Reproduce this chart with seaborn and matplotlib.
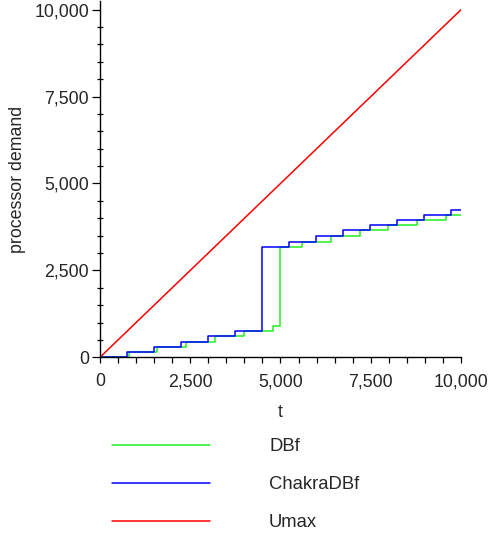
import numpy as np
import pandas as pd
import matplotlib
matplotlib.use('Agg')
import matplotlib.pyplot as plt
import seaborn as sns
from matplotlib.ticker import MultipleLocator, FuncFormatter

# ---- data ----
series_names = ['DBf', 'ChakraDBf', 'Umax']
t_dbf = [0, 790, 1590, 2390, 3190, 3990, 4790, 5000, 5590, 6390, 7190, 7990, 8790, 9590, 10000]
dbf = [0, 150, 300, 450, 600, 750, 900, 3175, 3325, 3485, 3655, 3810, 3945, 4090, 4090]
t_chakra = [0, 735, 1485, 2235, 2985, 3735, 4485, 5235, 5985, 6735, 7485, 8235, 8985, 9735, 10000]
chakra = [0, 150, 300, 450, 600, 750, 3175, 3325, 3485, 3655, 3810, 3945, 4095, 4240, 4240]
t_umax = [0, 10000]
umax = [0, 10000]
colors = ['#22ee22', '#0000ff', '#ff0000']
x_ticks = [0, 2500, 5000, 7500, 10000]
y_ticks = [0, 2500, 5000, 7500, 10000]

sns.set_style('white')
plt.rcParams['font.family'] = ['Liberation Sans', 'DejaVu Sans']
plt.rcParams['font.size'] = 12.8

df = pd.concat([
    pd.DataFrame({'t': t_dbf, 'demand': dbf, 'series': series_names[0]}),
    pd.DataFrame({'t': t_chakra, 'demand': chakra, 'series': series_names[1]}),
    pd.DataFrame({'t': t_umax, 'demand': umax, 'series': series_names[2]}),
], ignore_index=True)

fig = plt.figure(figsize=(4.89, 5.35), dpi=100)
ax = fig.add_axes([100 / 489, 1 - 357.3 / 535, 361 / 489, 356.3 / 535])

for name, col in zip(series_names, colors):
    sub = df[df['series'] == name]
    style = 'default' if name == 'Umax' else 'steps-post'
    sns.lineplot(data=sub, x='t', y='demand', ax=ax, color=col, lw=1.1,
                 estimator=None, drawstyle=style, label=name, legend=False)

ax.set_xlim(0, 10000)
ax.set_ylim(0, 10250)
for s in ['top', 'right']:
    ax.spines[s].set_visible(False)
for s in ['left', 'bottom']:
    ax.spines[s].set_linewidth(1.0)
    ax.spines[s].set_color('black')

fmt = FuncFormatter(lambda v, p: f'{int(round(v)):,}')
ax.set_xticks(x_ticks)
ax.set_yticks(y_ticks)
ax.xaxis.set_major_formatter(fmt)
ax.yaxis.set_major_formatter(fmt)
ax.xaxis.set_minor_locator(MultipleLocator(500))
ax.yaxis.set_minor_locator(MultipleLocator(500))
ax.tick_params(axis='x', which='both', direction='out', length=4, width=0.9,
               bottom=True, pad=7.5, labelsize=12.8, color='black')
ax.tick_params(axis='y', which='major', direction='out', length=6, width=0.9,
               left=True, pad=2, labelsize=12.8, color='black')
ax.tick_params(axis='y', which='minor', direction='inout', length=5, width=0.9,
               left=True, color='black')

ax.set_xlabel('t', fontsize=12.8)
ax.set_ylabel('processor demand', fontsize=12.8)
ax.xaxis.set_label_coords(0.5, -(404 - 357.3) / 356.3)
ax.yaxis.set_label_coords((26 - 100) / 361, 0.5)

handles = ax.get_lines()[:3]
fig.legend(handles, series_names, loc='upper left',
           bbox_to_anchor=(112 / 489, 1 - 438 / 535), frameon=False,
           borderpad=0, borderaxespad=0, handlelength=5.3, handletextpad=3.2,
           labelspacing=1.15, fontsize=13.3)

fig.savefig('out.png', dpi=100)
